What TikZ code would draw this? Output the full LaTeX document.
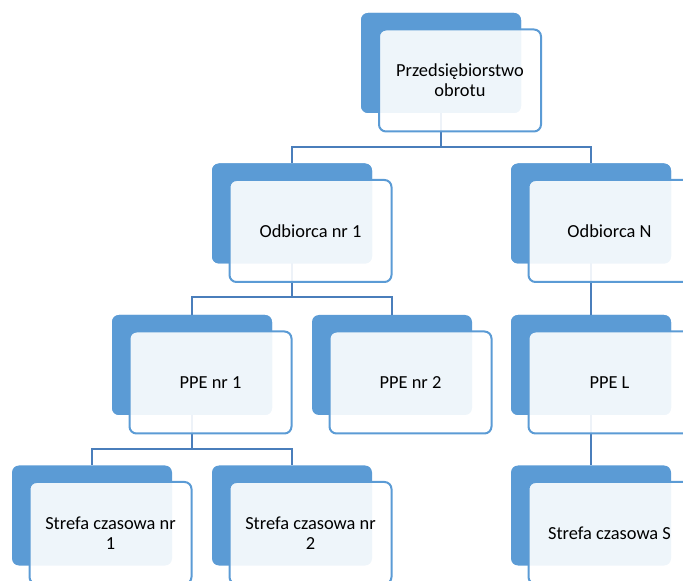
\documentclass[tikz,border=0pt]{standalone}
\usepackage{fontspec}
\setmainfont{Carlito}
\definecolor{accent}{HTML}{5B9BD5}
\definecolor{connc}{HTML}{4A7EBB}
\definecolor{txt}{HTML}{000000}
\begin{document}
\begin{tikzpicture}[x=0.75pt,y=-0.75pt,
  back/.style={fill=accent, draw=none, rounded corners=5.25pt, minimum width=120pt, minimum height=75pt, inner sep=0pt},
  front/.style={draw=accent, line width=1.5pt, fill=white, fill opacity=0.9, text opacity=1, rounded corners=5.25pt, minimum width=121.5pt, minimum height=76.5pt, inner sep=0pt, align=center, font=\fontsize{13.8pt}{15.2pt}\selectfont, text=txt},
  conn/.style={draw=connc, line width=1.9pt}]
\clip (0,0) rectangle (683,581);
% back boxes
\node[back] (b1) at (441,63) {};
\node[back] (b2) at (292,213.5) {};
\node[back] (b3) at (591,213.5) {};
\node[back] (b4) at (192,365) {};
\node[back] (b5) at (392,365) {};
\node[back] (b6) at (591,365) {};
\node[back] (b7) at (92,515.5) {};
\node[back] (b8) at (292,515.5) {};
\node[back] (b9) at (591,515.5) {};
% connectors (behind the front boxes)
\draw[conn] (b1.center) -- (441,147) -| (b2.north);
\draw[conn] (441,147) -| (b3.north);
\draw[conn] (b2.center) -- (292,297) -| (b4.north);
\draw[conn] (292,297) -| (b5.north);
\draw[conn] (b3.center) -- (b6.north);
\draw[conn] (b4.center) -- (192,449) -| (b7.north);
\draw[conn] (192,449) -| (b8.north);
\draw[conn] (b6.center) -- (b9.north);
% redraw back boxes over connector starts
\node[back] at (b1) {};
\node[back] at (b2) {};
\node[back] at (b3) {};
\node[back] at (b4) {};
\node[back] at (b6) {};
% front boxes
\node[front] (f1) at (460,80.5) {Przedsiębiorstwo\\obrotu};
\node[front] (f2) at (310.5,231) {Odbiorca nr 1};
\node[front] (f3) at (609.5,231) {Odbiorca N};
\node[front] (f4) at (210.5,382.5) {PPE nr 1};
\node[front] (f5) at (410.5,382.5) {PPE nr 2};
\node[front] (f6) at (609.5,382.5) {PPE L};
\node[front] (f7) at (110.5,533) {Strefa czasowa nr\\1};
\node[front] (f8) at (310.5,533) {Strefa czasowa nr\\2};
\node[front] (f9) at (609.5,533) {Strefa czasowa S};
\end{tikzpicture}
\end{document}
